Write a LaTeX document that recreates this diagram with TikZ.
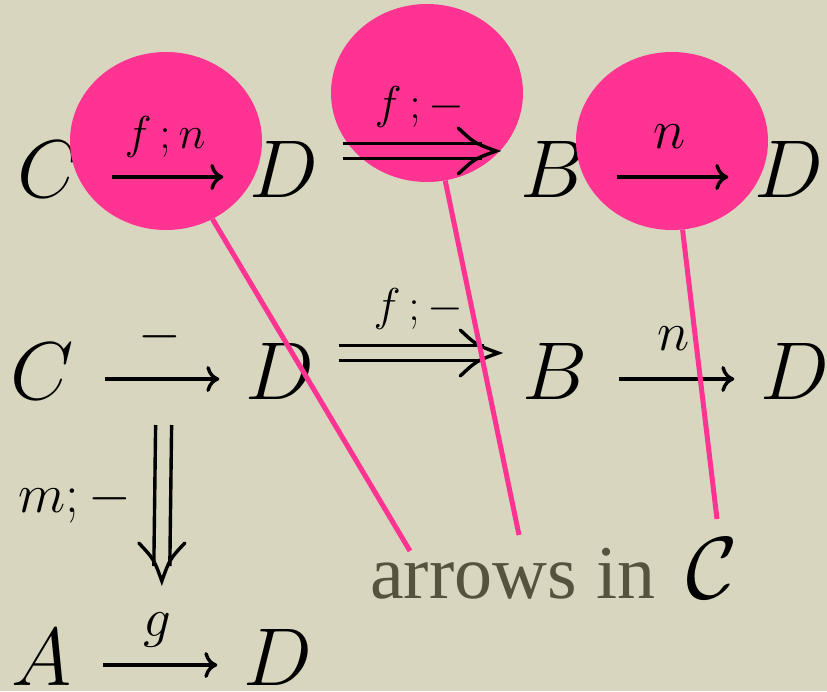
\RequirePackage{fix-cm}
\documentclass[tikz,border=0pt]{standalone}
\usepackage{fontspec}
\usepackage{amsmath,amssymb}
\usetikzlibrary{arrows.meta,shapes.geometric}
\newfontfamily\arrowsfont{Liberation Serif}
\definecolor{paper}{RGB}{216,214,190}
\definecolor{hotpink}{RGB}{254,51,146}
\definecolor{olivetext}{RGB}{85,83,62}

\tikzset{
  imphead/.pic={
    \draw[line width=3.4pt, line cap=round]
      (-38pt,23pt) .. controls (-22pt,8pt) .. (0pt,0pt)
      .. controls (-22pt,-8pt) .. (-38pt,-23pt);
  }
}

\begin{document}
\begin{tikzpicture}[
  x=1pt, y=-1pt,
  obj/.style={anchor=base, inner sep=0pt, text height=40pt, text depth=0pt,
    font=\fontsize{82}{90}\selectfont},
  lab/.style={inner sep=0pt, text height=33pt, text depth=9pt,
    font=\fontsize{46}{50}\selectfont},
  biglab/.style={lab, font=\fontsize{55}{60}\selectfont},
  blob/.style={ellipse, fill=hotpink, inner sep=0pt,
    minimum width=192pt, minimum height=178pt},
  arrow/.style={line width=3.4pt,
    -{Computer Modern Rightarrow[length=13pt,width=26pt]},
    shorten <=31pt, shorten >=26pt},
  dline/.style={line width=3.4pt},
  pinkline/.style={hotpink, line width=5pt}
]
  % Background
  \useasboundingbox (0,0) rectangle (827,691);
  \fill[paper] (0,0) rectangle (827,691);

  % Objects
  \node[obj] (c1) at (49,197) {$C$};
  \node[obj] (d1) at (284,197) {$D$};
  \node[obj] (b1) at (553,197) {$B$};
  \node[obj] (dd1) at (789,197) {$D$};
  \node[obj] (c2) at (42,399) {$C$};
  \node[obj] (d2) at (280,399) {$D$};
  \node[obj] (b2) at (555,399) {$B$};
  \node[obj] (dd2) at (795,399) {$D$};
  \node[obj] (a3) at (42,685) {$A$};
  \node[obj] (d3) at (278,685) {$D$};

  % Highlights
  \node[blob] (blobfn) at (166,141) {};
  \node[blob] (blobf) at (427,93) {};
  \node[blob] (blobn) at (672,141) {};

  % Arrows
  \draw[arrow] (c1) -- node[lab, above=18pt] (lfn) {$f\,;n$} (d1);
  \draw[arrow] (b1) -- node[biglab, above=18pt] (ln1) {$n$} (dd1);
  \draw[arrow] (c2) -- coordinate[midway] (cd2) node[biglab, above=18pt] (lid) {$-$} (d2);
  \draw[arrow] (b2) -- node[biglab, above=18pt] (ln2) {$n$} (dd2);
  \draw[arrow] (a3) -- coordinate[midway] (ad3) node[biglab, above=18pt] (lg) {$g$} (d3);

  % Double arrows
  \foreach \r in {1,2}{
    \coordinate (s\r) at ([xshift=24pt, yshift=26pt]d\r.east);
    \coordinate (t\r) at ([xshift=-24pt, yshift=26pt]b\r.west);
    \draw[dline] ([yshift=7.5pt]s\r) -- ([xshift=-14pt, yshift=7.5pt]t\r);
    \draw[dline] ([yshift=-7.5pt]s\r) -- ([xshift=-14pt, yshift=-7.5pt]t\r);
    \pic at (t\r) {imphead};
    \path (s\r) -- node[lab, above=23pt] (lf\r) {$f\,;-$} (t\r);
  }
  \coordinate (s3) at ([xshift=4pt, yshift=-46pt]cd2);
  \coordinate (t3) at ([xshift=4pt, yshift=84pt]ad3);
  \draw[dline] ([xshift=-8pt]s3) -- ([xshift=-8pt, yshift=15pt]t3);
  \draw[dline] ([xshift=8pt]s3) -- ([xshift=8pt, yshift=15pt]t3);
  \pic[rotate=-90] at (t3) {imphead};
  \path (s3) -- node[biglab, left=31pt, yshift=3pt] (lm) {$m;-$} (t3);

  % Caption and pointers
  \node[anchor=base west, inner sep=0pt, text=olivetext,
    font=\arrowsfont\fontsize{76}{80}\selectfont] (capt) at (370,598)
    {arrows in\hspace{12pt} {\color{black}\fontsize{88}{90}\selectfont$\mathcal{C}$}};
  \coordinate (tipfn) at (410,551);
  \coordinate (tipf) at (519,535);
  \coordinate (tipn) at (717,519);
  \draw[pinkline] (blobfn) -- (tipfn);
  \draw[pinkline] (blobf) -- (tipf);
  \draw[pinkline] (blobn) -- (tipn);
\end{tikzpicture}
\end{document}
